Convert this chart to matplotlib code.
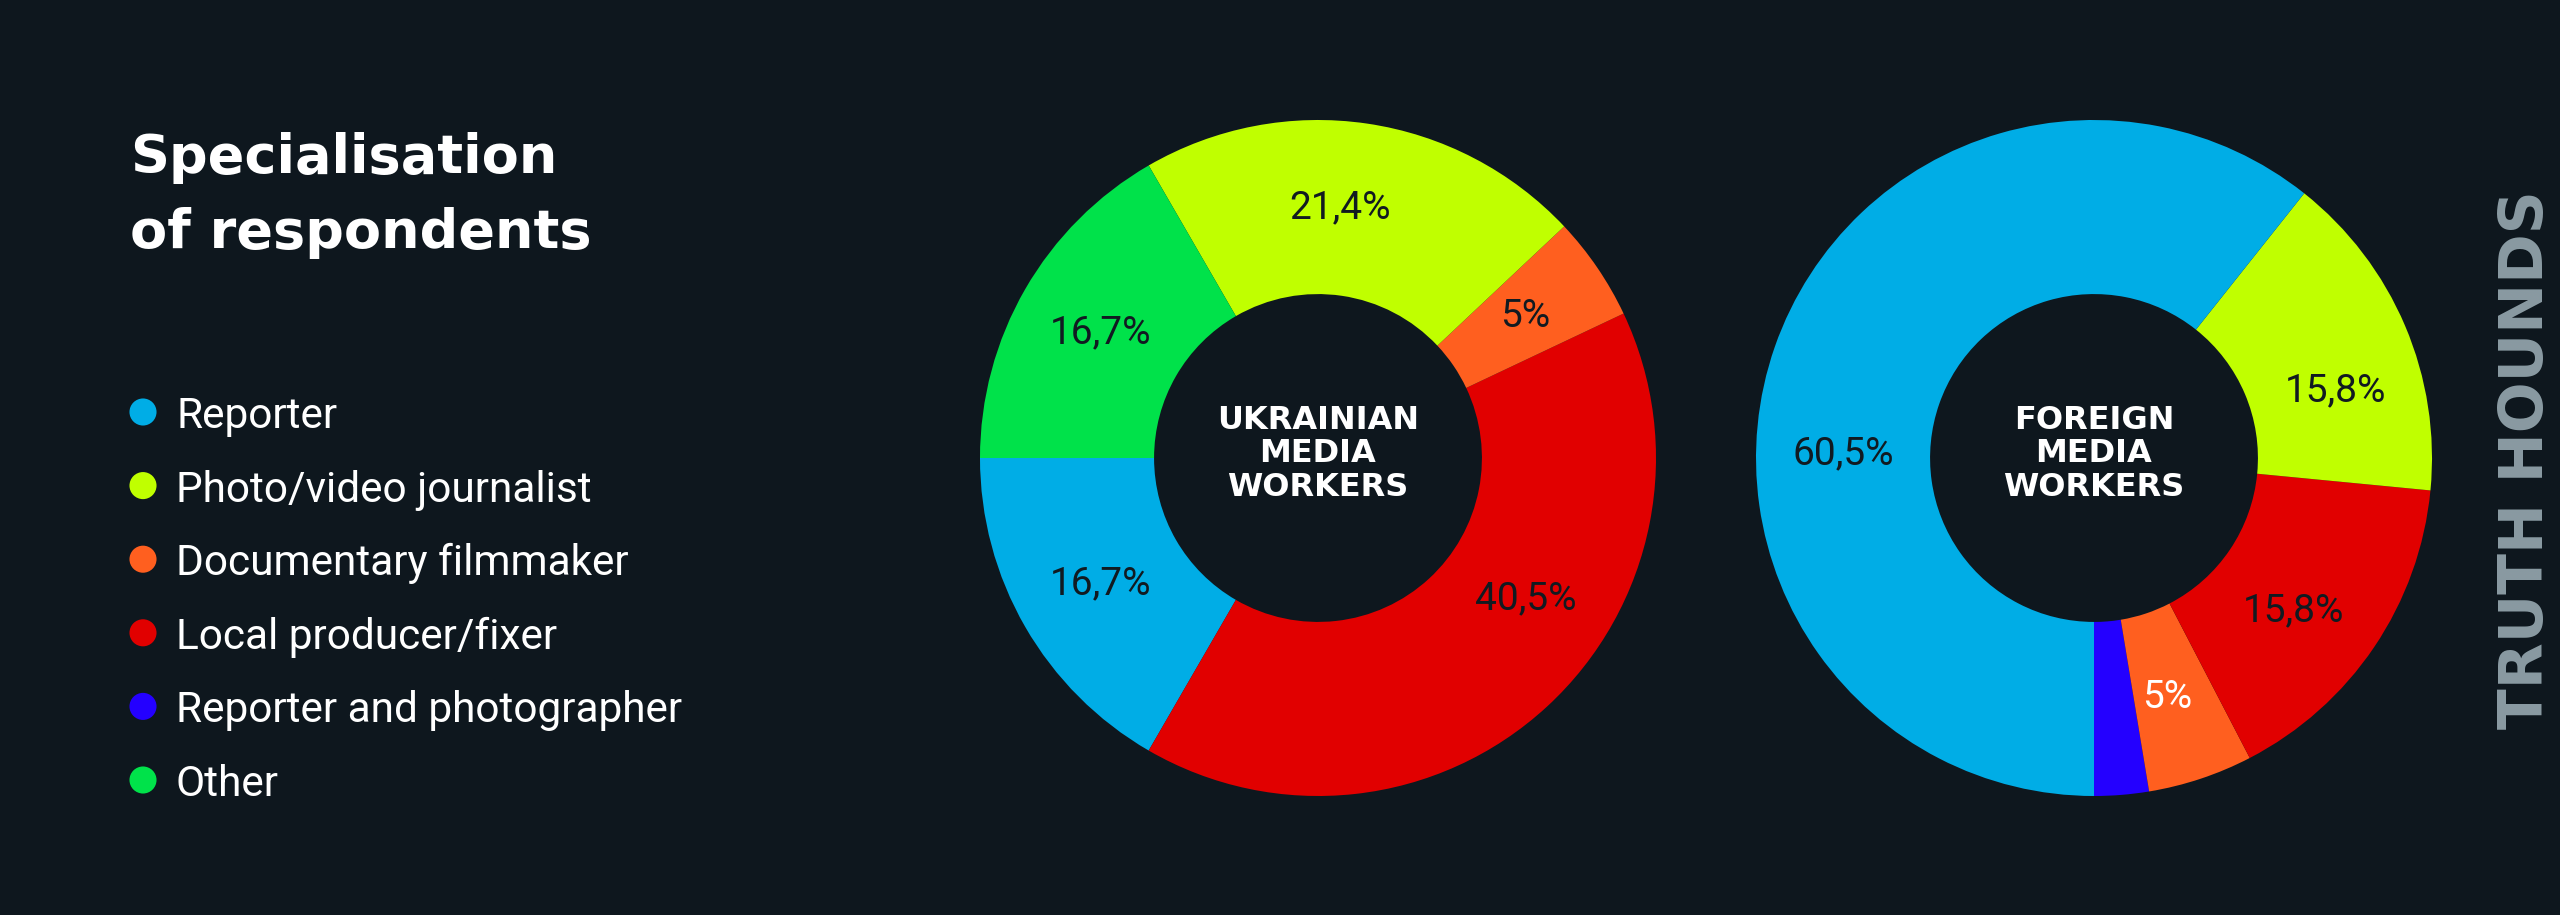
import numpy as np
import matplotlib.pyplot as plt

BG = "#0e171e"
DARK = "#111a21"
BODY_FONT = ["Roboto", "DejaVu Sans"]
HEAD_FONT = ["DejaVu Sans"]
HOLE = 0.485

categories = ["Reporter", "Photo/video journalist", "Documentary filmmaker",
              "Local producer/fixer", "Reporter and photographer", "Other"]
colors = ["#00ade6", "#c0ff00", "#ff5f1f", "#e10000", "#2400ff", "#00e24a"]

ukrainian_share = [16.7, 21.4, 5, 40.5, 0, 16.7]
foreign_share = [60.5, 15.8, 5, 15.8, 2.6, 0]

title_lines = ["Specialisation", "of respondents"]
ukrainian_name = "UKRAINIAN\nMEDIA\nWORKERS"
foreign_name = "FOREIGN\nMEDIA\nWORKERS"
brand = "TRUTH HOUNDS"

# order of slices going counter-clockwise from the start angle
ukrainian_order = [0, 3, 2, 1, 5]
foreign_order = [4, 2, 3, 1, 0]

# label angles that the designer moved away from the slice middle
ukrainian_label_angle = {3: -34, 1: 85}
foreign_label_angle = {0: 179, 1: 15.6, 3: -37.4, 2: -73}


def fmt(v):
    return f"{v:g}".replace(".", ",") + "%"


def donut(cx, cy, shares, order, start, name, label_angle, white_labels=()):
    r_px = 338
    ax = fig.add_axes([(cx - r_px) / W, 1 - (cy + r_px) / H, 2 * r_px / W, 2 * r_px / H])
    vals = [shares[i] for i in order]
    cols = [colors[i] for i in order]
    wedges, _ = ax.pie(vals, colors=cols, startangle=start, counterclock=True,
                       radius=1, wedgeprops=dict(width=1 - HOLE, linewidth=0))
    r = (1 + HOLE) / 2
    for w, i in zip(wedges, order):
        v = shares[i]
        if v < 4:
            continue
        ang = np.radians(label_angle.get(i, (w.theta1 + w.theta2) / 2))
        ax.text(r * np.cos(ang), r * np.sin(ang), fmt(v), ha="center", va="center",
                fontsize=28, color="white" if i in white_labels else DARK, family=BODY_FONT)
    ax.text(0, 0.012, name, ha="center", va="center", color="white", fontsize=23,
            fontweight="bold", linespacing=1.1, family=HEAD_FONT)
    ax.set_xlim(-1, 1)
    ax.set_ylim(-1, 1)
    ax.axis("off")


W, H = 2560, 915
fig = plt.figure(figsize=(W / 100, H / 100), dpi=100, facecolor=BG)

# full-figure axes in pixel units for the left-hand text
bg = fig.add_axes([0, 0, 1, 1])
bg.set_xlim(0, W)
bg.set_ylim(H, 0)
bg.axis("off")

for k, line in enumerate(title_lines):
    bg.text(130, 173 + k * 75, line, color="white", fontsize=39, fontweight="bold",
            va="baseline", family=HEAD_FONT)

leg_y = 412 + 73.6 * np.arange(len(categories))
bg.scatter(np.full(len(categories), 143), leg_y, s=380, c=colors, linewidths=0)
for y, name in zip(leg_y, categories):
    bg.text(176, y, name, color="white", fontsize=30.5, va="center_baseline", family=BODY_FONT)

bg.text(2527, 460, brand, rotation=90, ha="center", va="center", color="#8a9ba3",
        fontsize=43, fontweight="bold", family=HEAD_FONT)

donut(1318, 458, ukrainian_share, ukrainian_order, 180, ukrainian_name, ukrainian_label_angle)
donut(2094, 458, foreign_share, foreign_order, 270, foreign_name, foreign_label_angle,
      white_labels=(2,))

fig.savefig("out.png", facecolor=BG)
